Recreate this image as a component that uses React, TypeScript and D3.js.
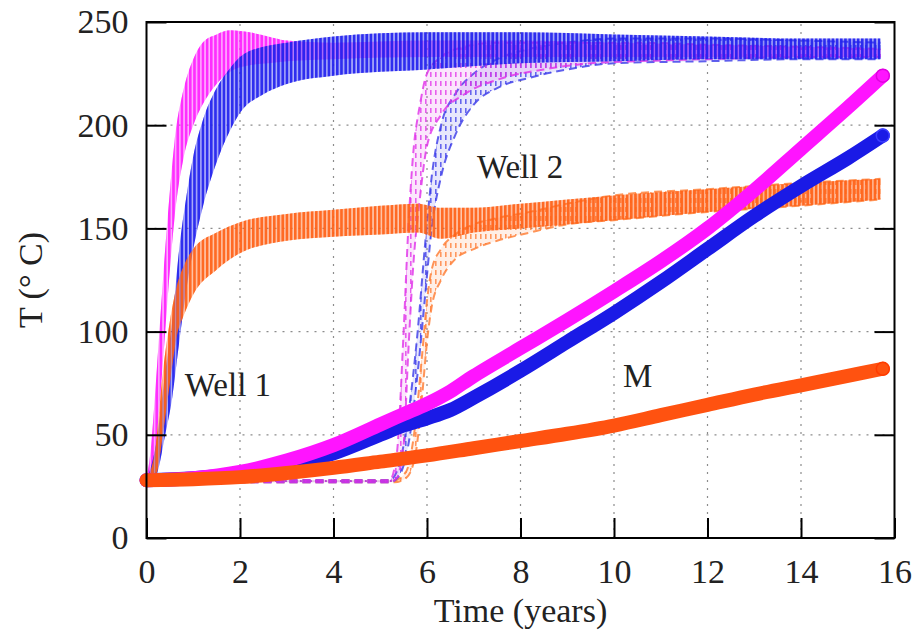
import React, { useEffect, useRef } from 'react';
import * as d3 from 'd3';

const xTicks = [0, 2, 4, 6, 8, 10, 12, 14, 16];
const yTicks = [0, 50, 100, 150, 200, 250];

// Well 1 (cycling) - lower / upper envelope of the oscillation
const w1MagentaTime = [0, 0.1, 0.2, 0.3, 0.4, 0.5, 0.6, 0.8, 1.0, 1.2, 1.5, 1.8, 2.2, 2.6, 3.0, 4, 6, 8, 10, 12, 14, 15.7];
const w1MagentaHi = [28, 45, 75, 108, 140, 168, 192, 218, 232, 240, 244, 246, 245, 243, 241, 240, 241, 241, 240, 239, 238, 237];
const w1MagentaLo = [27, 30, 45, 70, 100, 130, 155, 185, 200, 210, 220, 226, 229, 230, 231, 232, 233, 233, 233, 233, 233, 233];

const w1BlueTime = [0, 0.2, 0.4, 0.55, 0.7, 0.85, 1.0, 1.2, 1.5, 1.8, 2.0, 2.5, 3, 4, 6, 8, 10, 12, 14, 15.7];
const w1BlueHi = [28, 45, 80, 105, 140, 165, 185, 202, 218, 228, 233, 238, 240, 243, 245, 245, 244, 243, 242, 242];
const w1BlueLo = [27, 30, 50, 68, 95, 120, 140, 160, 182, 198, 206, 215, 220, 224, 227, 230, 231, 232, 232, 232];

const w1OrangeTime = [0, 0.2, 0.35, 0.5, 0.65, 0.8, 1.0, 1.5, 2, 3, 4, 5, 5.8, 6.3, 7, 8, 10, 12, 14, 15.7];
const w1OrangeHi = [28, 45, 80, 105, 122, 132, 140, 148, 153, 157, 159, 161, 162, 160, 160, 162, 166, 169, 172, 174];
const w1OrangeLo = [27, 30, 50, 75, 98, 108, 118, 130, 138, 144, 146, 147, 148, 145, 148, 150, 154, 158, 161, 164];

// Well 2 (dashed) - starts heating later
const w2MagentaTime = [0, 5.2, 5.35, 5.5, 5.6, 5.7, 5.85, 6.0, 6.3, 6.8, 7.5, 8.5, 9.5, 10.5, 12, 14, 15.7];
const w2MagentaHi = [28, 28, 40, 100, 150, 185, 210, 225, 233, 238, 240, 240, 240, 240, 239, 238, 237];
const w2MagentaLo = [27, 27, 29, 45, 90, 130, 165, 190, 205, 215, 222, 227, 230, 231, 232, 233, 233];

const w2BlueTime = [0, 5.2, 5.4, 5.6, 5.8, 5.95, 6.1, 6.3, 6.6, 7.0, 7.5, 8.2, 9, 10, 12, 14, 15.7];
const w2BlueHi = [28, 28, 35, 60, 100, 140, 175, 200, 215, 225, 232, 237, 240, 242, 242, 241, 240];
const w2BlueLo = [27, 27, 30, 45, 80, 115, 150, 175, 195, 210, 218, 223, 227, 230, 231, 232, 232];

const w2OrangeTime = [0, 5.3, 5.55, 5.75, 5.9, 6.0, 6.1, 6.3, 6.6, 7.0, 7.5, 8.2, 9, 10, 12, 14, 15.7];
const w2OrangeHi = [28, 28, 32, 55, 90, 115, 130, 140, 147, 152, 155, 158, 162, 166, 169, 172, 174];
const w2OrangeLo = [27, 27, 29, 40, 70, 95, 112, 125, 135, 140, 144, 148, 152, 154, 158, 161, 164];

// M (thick lines with markers)
const mTime = [0, 1, 2, 3, 4, 5, 5.5, 6, 6.5, 7, 8, 9, 10, 11, 12, 13, 14, 15, 15.75];
const mMagenta = [28, 29, 32, 37.5, 45, 55, 60, 65, 71, 78.5, 92, 105.5, 119.5, 134, 150, 168.5, 188.5, 208.5, 224];
const mBlue = [28, 29, 31, 35, 41, 50, 54.5, 58, 62, 68, 81, 95, 109, 124, 140, 156, 170.5, 184, 195];
const mOrangeTime = [0, 1, 2, 3, 4, 5, 6, 7, 8, 9, 10, 11, 12, 13, 14, 15, 15.75];
const mOrange = [28, 28.5, 29.5, 31.5, 34, 37, 40, 43.5, 47, 50.5, 54.5, 59.5, 64.5, 69.5, 74, 78.5, 82];

const FONT = "'Liberation Serif', 'Times New Roman', 'DejaVu Serif', serif";

function drawChart(el: SVGSVGElement) {
  const svg = d3.select(el);
  svg.selectAll('*').remove();

  const x = d3.scaleLinear().domain([0, 16]).range([146.5, 894.5]);
  const y = d3.scaleLinear().domain([0, 250]).range([538, 22]);
  const [x0, x1] = x.range();
  const [yb, yt] = y.range();

  const defs = svg.append('defs');
  defs.append('clipPath').attr('id', 'plot')
    .append('rect').attr('x', x0).attr('y', yt).attr('width', x1 - x0).attr('height', yb - yt);

  // vertical stripe patterns mimic the dense oscillation
  function stripes(id: string, color: string, dashed: boolean) {
    const p = defs.append('pattern').attr('id', id)
      .attr('patternUnits', 'userSpaceOnUse')
      .attr('width', dashed ? 5 : 4.2).attr('height', dashed ? 9 : 10);
    p.append('rect').attr('x', 0).attr('y', 0)
      .attr('width', dashed ? 1.6 : 2.7).attr('height', dashed ? 5 : 10)
      .attr('fill', color);
  }

  // grid
  const grid = svg.append('g').attr('stroke', '#8c8c8c').attr('stroke-width', 1.2).attr('stroke-dasharray', '2 6');
  grid.selectAll('.gx').data(xTicks.slice(1, -1)).enter().append('line')
    .attr('x1', d => x(d)).attr('x2', d => x(d)).attr('y1', yb).attr('y2', yt);
  grid.selectAll('.gy').data(yTicks.slice(1, -1)).enter().append('line')
    .attr('y1', d => y(d)).attr('y2', d => y(d)).attr('x1', x0).attr('x2', x1);

  const plot = svg.append('g').attr('clip-path', 'url(#plot)');

  function band(t: number[], lo: number[], hi: number[], color: string, id: string, dashed: boolean) {
    stripes(id, color, dashed);
    const idx = d3.range(t.length);
    const area = d3.area<number>()
      .x(i => x(t[i])).y0(i => y(lo[i])).y1(i => y(hi[i]))
      .curve(d3.curveMonotoneX);
    plot.append('path').attr('d', area(idx)).attr('fill', color).attr('opacity', dashed ? 0.12 : 0.35);
    plot.append('path').attr('d', area(idx)).attr('fill', `url(#${id})`).attr('opacity', dashed ? 0.75 : 0.92);
    if (dashed) {
      const edge = (v: number[]) => d3.line<number>().x(i => x(t[i])).y(i => y(v[i])).curve(d3.curveMonotoneX)(idx);
      [lo, hi].forEach(v => plot.append('path').attr('d', edge(v)).attr('fill', 'none')
        .attr('stroke', color).attr('stroke-width', 2).attr('stroke-dasharray', '8 5').attr('opacity', 0.8));
    }
  }

  // Well 2 (dashed, underneath)
  band(w2OrangeTime, w2OrangeLo, w2OrangeHi, '#ff7a30', 'w2o', true);
  band(w2BlueTime, w2BlueLo, w2BlueHi, '#3a3ae8', 'w2b', true);
  band(w2MagentaTime, w2MagentaLo, w2MagentaHi, '#e030e8', 'w2m', true);

  // Well 1
  band(w1MagentaTime, w1MagentaLo, w1MagentaHi, '#ff22ff', 'w1m', false);
  band(w1BlueTime, w1BlueLo, w1BlueHi, '#2222ee', 'w1b', false);

  // M lines
  function mLine(t: number[], v: number[], color: string, edge: string) {
    const idx = d3.range(t.length);
    const line = d3.line<number>().x(i => x(t[i])).y(i => y(v[i])).curve(d3.curveCatmullRom.alpha(0.5));
    svg.append('path').attr('d', line(idx)).attr('fill', 'none')
      .attr('stroke', color).attr('stroke-width', 14).attr('stroke-linecap', 'round');
    const last = idx[idx.length - 1];
    svg.append('circle').attr('cx', x(t[last])).attr('cy', y(v[last])).attr('r', 6.5)
      .attr('fill', color).attr('stroke', edge).attr('stroke-width', 1.5);
  }
  mLine(mTime, mBlue, '#1a1ae6', '#3c3cff');
  mLine(mTime, mMagenta, '#ff14ff', '#e000e0');

  band(w1OrangeTime, w1OrangeLo, w1OrangeHi, '#ff6218', 'w1o', false);

  mLine(mOrangeTime, mOrange, '#ff5210', '#ff3c00');

  // frame and ticks
  const axes = svg.append('g');
  const styleAxis = (g: d3.Selection<SVGGElement, unknown, null, undefined>) => {
    g.select('.domain').remove();
    g.selectAll('.tick line').attr('stroke', '#000').attr('stroke-width', 2);
    g.selectAll('.tick text').attr('font-family', FONT).attr('font-size', 34).attr('fill', '#222');
  };
  axes.append('g').attr('transform', `translate(${x0},0)`)
    .call(d3.axisLeft(y).tickValues(yTicks).tickSize(-20).tickPadding(18))
    .call(styleAxis);
  axes.append('g').attr('transform', `translate(${x1},0)`)
    .call(d3.axisRight(y).tickValues(yTicks).tickSize(-20).tickFormat(() => ''))
    .call(styleAxis);
  axes.append('g').attr('transform', `translate(0,${yb})`)
    .call(d3.axisBottom(x).tickValues(xTicks).tickSize(-20).tickPadding(21))
    .call(styleAxis);

  svg.append('rect').attr('x', x0).attr('y', yt).attr('width', x1 - x0).attr('height', yb - yt)
    .attr('fill', 'none').attr('stroke', '#000').attr('stroke-width', 2);

  // annotations
  const notes = [
    { label: 'Well 1', t: 0.82, v: 69 },
    { label: 'Well 2', t: 7.07, v: 174.5 },
    { label: 'M', t: 10.19, v: 73 },
  ];
  svg.selectAll('.note').data(notes).enter().append('text')
    .attr('x', d => x(d.t)).attr('y', d => y(d.v))
    .attr('font-family', FONT).attr('font-size', 33).attr('fill', '#222')
    .text(d => d.label);

  svg.append('text').attr('x', (x0 + x1) / 2).attr('y', 622).attr('text-anchor', 'middle')
    .attr('font-family', FONT).attr('font-size', 34).attr('fill', '#222').text('Time (years)');
  svg.append('text').attr('transform', `translate(42,${(yt + yb) / 2}) rotate(-90)`)
    .attr('text-anchor', 'middle').attr('font-family', FONT).attr('font-size', 34).attr('fill', '#222')
    .text('T (° C)');
}

export default function App() {
  const ref = useRef<SVGSVGElement>(null);
  useEffect(() => {
    if (ref.current) drawChart(ref.current);
  }, []);
  return (
    <svg ref={ref} width={919} height={641}
      style={{ position: 'absolute', left: 0, top: 0, background: '#fff' }} />
  );
}
